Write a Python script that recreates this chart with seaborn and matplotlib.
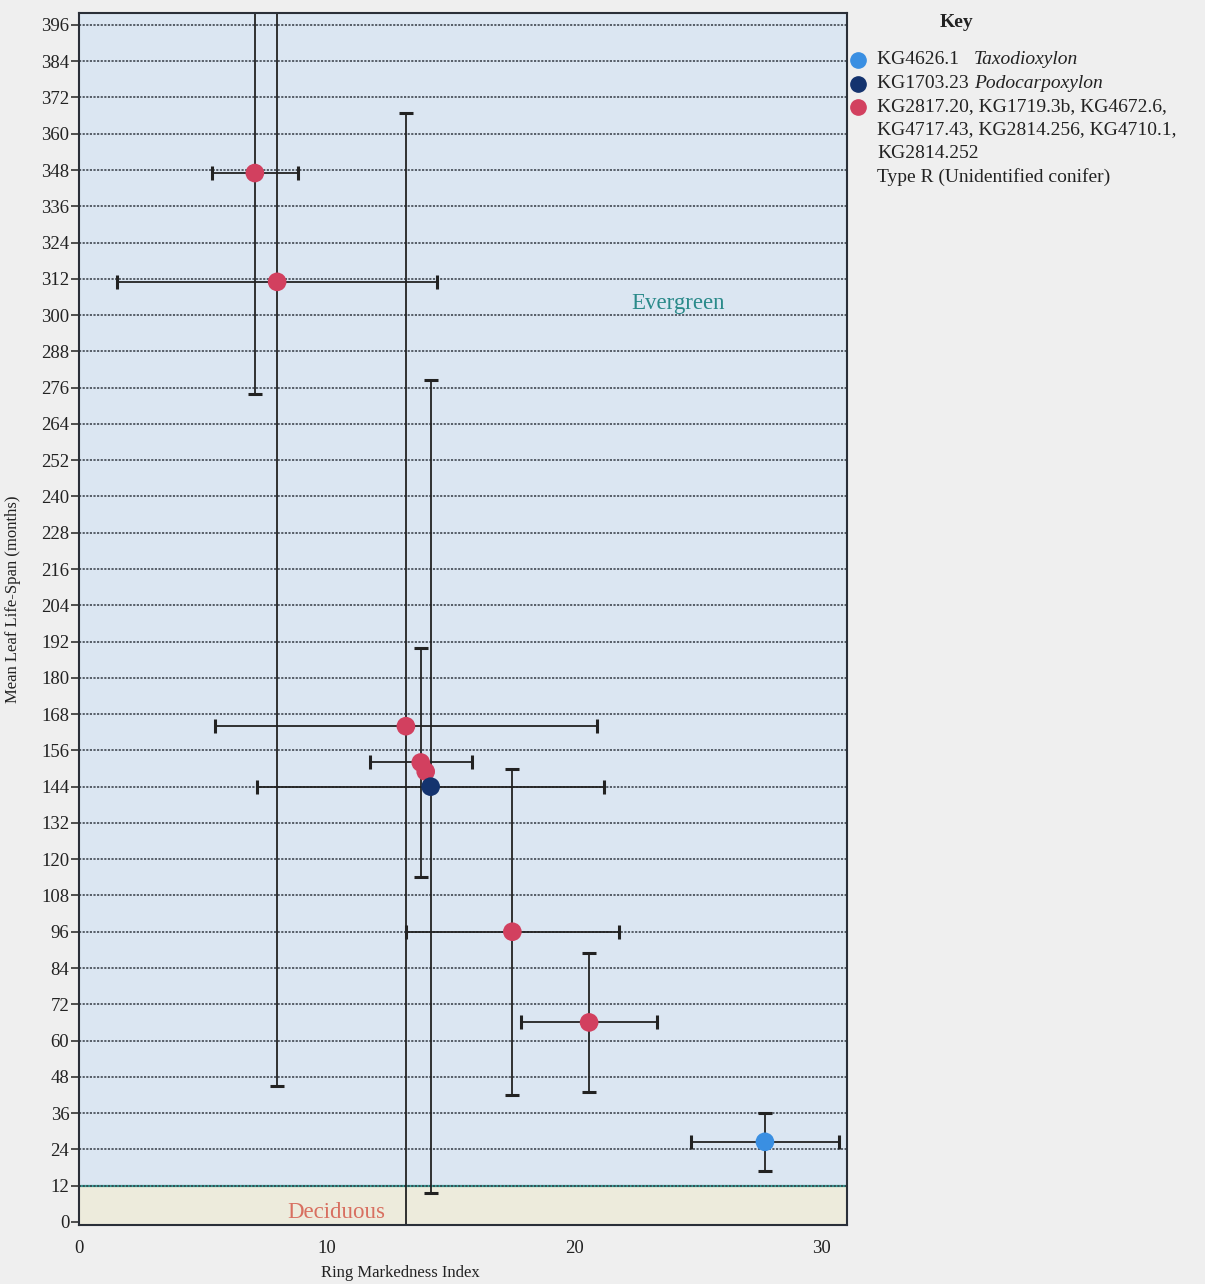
import matplotlib
matplotlib.use("Agg")
import matplotlib.pyplot as plt
import seaborn as sns
import pandas as pd
from matplotlib.lines import Line2D

# Ring markedness index (x) and mean leaf life-span in months (y), with errors
samples = ["KG2817.20", "KG1719.3b", "KG4672.6", "KG4717.43", "KG2814.256",
           "KG4710.1", "KG2814.252", "KG1703.23", "KG4626.1"]
groups = ["Type R", "Type R", "Type R", "Type R", "Type R",
          "Type R", "Type R", "Podocarpoxylon", "Taxodioxylon"]
rmi = [7.1, 8.0, 13.2, 13.8, 14.0, 17.5, 20.6, 14.2, 27.7]
mlls = [347, 311, 164, 152, 149, 96, 66, 144, 26.5]
rmi_err = [1.75, 6.45, 7.7, 2.05, 0.0, 4.3, 2.75, 7.0, 3.0]
mlls_err = [73, 266, 203, 38, 0.0, 54, 23, 134.5, 9.6]

y_ticks = list(range(0, 397, 12))
x_ticks = [0, 10, 20, 30]
deciduous_limit = 12

palette = {"Taxodioxylon": "#3a8fe2", "Podocarpoxylon": "#14336e", "Type R": "#d2405f"}

df = pd.DataFrame({"sample": samples, "group": groups, "rmi": rmi, "mlls": mlls,
                   "rmi_err": rmi_err, "mlls_err": mlls_err})

sns.set_theme(style="white")
plt.rcParams["font.family"] = ["Liberation Serif", "DejaVu Serif"]

fig = plt.figure(figsize=(12.05, 12.84), dpi=100, facecolor="#efefef")
ax = fig.add_axes([0.0656, 0.046, 0.637, 0.944])
ax.set_facecolor("#dbe6f2")

ax.set_xlim(0, 31)
ax.set_ylim(-1, 400)

# deciduous band below the 12-month boundary
ax.axhspan(-1, deciduous_limit, color="#edebdc", zorder=0.5, lw=0)
ax.axhline(deciduous_limit, color="#3aa39a", lw=1.6, zorder=1)

# dotted horizontal grid
for t in y_ticks:
    if t == 0:
        continue
    ax.axhline(t, color="#333a44", lw=1.3, ls=(0, (1.2, 0.8)), zorder=1, alpha=0.85)

# error bars
for _, r in df.iterrows():
    if r["mlls_err"] == 0 and r["rmi_err"] == 0:
        continue
    ax.errorbar(r["rmi"], r["mlls"], xerr=r["rmi_err"], yerr=r["mlls_err"],
                fmt="none", ecolor="#222222", elinewidth=1.3, capsize=5,
                capthick=2.2, zorder=2)

sns.scatterplot(data=df, x="rmi", y="mlls", hue="group", palette=palette,
                s=180, marker="o", edgecolor="none", legend=False, ax=ax, zorder=3)

ax.set_xticks(x_ticks)
ax.set_yticks(y_ticks)
ax.tick_params(axis="y", which="both", left=True, length=6, width=1.2,
               color="#333333", labelsize=13.5, pad=1, labelcolor="#222222")
ax.tick_params(axis="x", bottom=False, labelsize=13.5, pad=5, labelcolor="#222222")
ax.set_xlabel("Ring Markedness Index", fontsize=12, color="#222222")
ax.set_ylabel("Mean Leaf Life-Span (months)", fontsize=12, color="#222222")
ax.xaxis.set_label_coords(0.418, -0.033)
ax.yaxis.set_label_coords(-0.075, 0.516)
for s in ax.spines.values():
    s.set_color("#2a2f38")
    s.set_linewidth(1.5)

ax.text(24.2, 304, "Evergreen", color="#2a8a8a", fontsize=16.5, ha="center", va="center")
ax.text(10.4, 3, "Deciduous", color="#d86f60", fontsize=16.5, ha="center", va="center")

# key
fig.text(0.794, 0.989, "Key", fontsize=14, fontweight="bold", ha="center", va="top",
         color="#222222")
key_rows = [
    ("#3a8fe2", [("KG4626.1   ", "normal"), ("Taxodioxylon", "italic")]),
    ("#14336e", [("KG1703.23 ", "normal"), ("Podocarpoxylon", "italic")]),
    ("#d2405f", [("KG2817.20, KG1719.3b, KG4672.6,", "normal")]),
    (None, [("KG4717.43, KG2814.256, KG4710.1,", "normal")]),
    (None, [("KG2814.252", "normal")]),
    (None, [("Type R (Unidentified conifer)", "normal")]),
]
row_y = [60, 84, 107, 130, 153, 177]
renderer = fig.canvas.get_renderer()
for (col, parts), py in zip(key_rows, row_y):
    yf = 1 - py / 1284
    if col is not None:
        fig.add_artist(Line2D([858 / 1205], [yf], marker="o", color=col, ms=11,
                              ls="none", transform=fig.transFigure))
    xf = 877 / 1205
    for txt, style in parts:
        t = fig.text(xf, yf, txt, fontsize=14, style=style, ha="left", va="center",
                     color="#222222")
        bb = t.get_window_extent(renderer=renderer)
        xf += bb.width / fig.bbox.width

fig.savefig("out.png", dpi=100, facecolor=fig.get_facecolor())
